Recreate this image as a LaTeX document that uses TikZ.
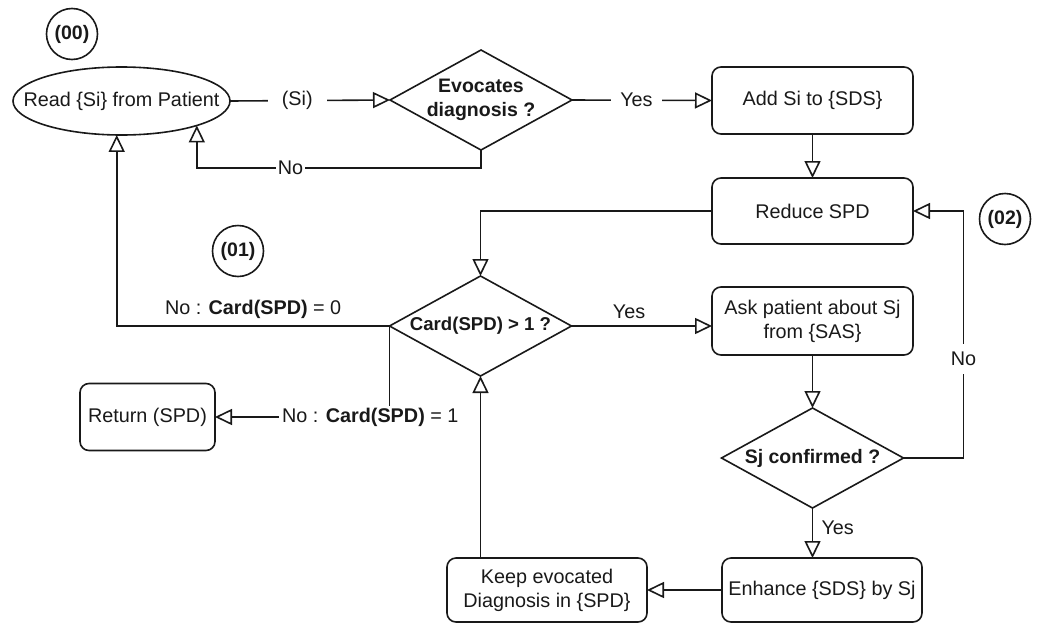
\documentclass[tikz,border=0pt]{standalone}
\usepackage{fontspec}
\setmainfont{Liberation Sans}
\usetikzlibrary{shapes.geometric,arrows.meta}
\begin{document}
\begin{tikzpicture}[x=1pt,y=-1pt,
  every node/.style={font=\fontsize{19.8}{24}\selectfont, inner sep=0pt, outer sep=0pt, text=black!90},
  line/.style={line width=1.6pt, draw=black!90},
  arr/.style={line, -{Triangle[open,length=17pt,width=16pt]}},
  shapeline/.style={draw=black!90, line width=1.6pt},
  procbox/.style={shapeline, rounded corners=9pt, align=center},
  decision/.style={shapeline, diamond, minimum width=182pt, minimum height=100pt},
  dtext/.style={font=\fontsize{19.5}{24}\selectfont\bfseries, align=center},
  tag/.style={shapeline, circle, minimum size=51pt, font=\fontsize{19.5}{22}\selectfont\bfseries},
  lbl/.style={fill=white, inner xsep=3pt, inner ysep=2pt},
]
\useasboundingbox (0,0) rectangle (1040,624);

% step markers
\node[tag] (t00) at (72,34) {(00)};
\node[tag] (t01) at (238,251) {(01)};
\node[tag] (t02) at (1005,219) {(02)};

% process steps
\node[shapeline, ellipse, minimum width=217pt, minimum height=68pt] (read) at (121.5,101) {};
\node at (read) {Read \{Si\} from Patient};
\node[procbox, minimum width=201pt, minimum height=67pt] (add) at (812.5,100.5) {Add Si to \{SDS\}};
\node[procbox, minimum width=201pt, minimum height=66pt] (reduce) at (812.5,211) {Reduce SPD};
\node[procbox, minimum width=201pt, minimum height=68pt] (ask) at (812.5,321) {Ask patient about Sj\\from \{SAS\}};
\node[procbox, minimum width=135pt, minimum height=67pt] (ret) at (147.5,417) {Return (SPD)};
\node[procbox, minimum width=200pt, minimum height=64pt] (keep) at (547,590) {Keep evocated\\Diagnosis in \{SPD\}};
\node[procbox, minimum width=200pt, minimum height=64pt] (enh) at (822,590) {Enhance \{SDS\} by Sj};

% decisions
\node[decision] (d1) at (481,100) {};
\node[dtext] at (d1) {Evocates\\diagnosis ?};
\node[decision] (d2) at (480.5,326) {};
\node[dtext, font=\fontsize{18.6}{22}\selectfont\bfseries] at (d2) {Card(SPD) > 1 ?};
\node[decision] (d3) at (812.5,458) {};
\node[dtext] at (d3) {Sj confirmed ?};

% connectors
\draw[arr] (read.east) -- node[lbl, pos=0.42, inner xsep=14pt] {(Si)} (d1.west);
\draw[arr] (d1.east) -- node[lbl, pos=0.46, inner xsep=9pt] {Yes} (add.west);
\draw[arr] (d1.south) -- (d1.south |- 0,168) -- node[lbl, pos=0.67, inner xsep=2pt] {No} (read.-18.2 |- 0,168) -- (read.-18.2);
\draw[arr] (add.south) -- (reduce.north);
\draw[arr] (reduce.west) -| (d2.north);
\draw[arr] (d2.west) -| node[pos=0.25, above=7pt] {No : \textbf{Card(SPD)} = 0} (read.262);
\draw[arr] (d2.west) |- node[lbl, pos=0.555] {No : \textbf{Card(SPD)} = 1} (ret.east);
\draw[arr] (d2.east) -- node[pos=0.41, above=7pt] {Yes} (d2.east -| ask.west);
\draw[arr] (ask.south) -- (d3.north);
\draw[arr] (d3.east) -- ++(60,0) |- node[lbl, pos=0.2, inner ysep=8pt] {No} (reduce.east);
\draw[arr] (d3.south) -- node[right=9pt, pos=0.4] {Yes} (d3.south |- enh.north);
\draw[arr] (enh.west) -- (keep.east);
\draw[arr] (keep.north -| d2.south) -- (d2.south);
\end{tikzpicture}
\end{document}
